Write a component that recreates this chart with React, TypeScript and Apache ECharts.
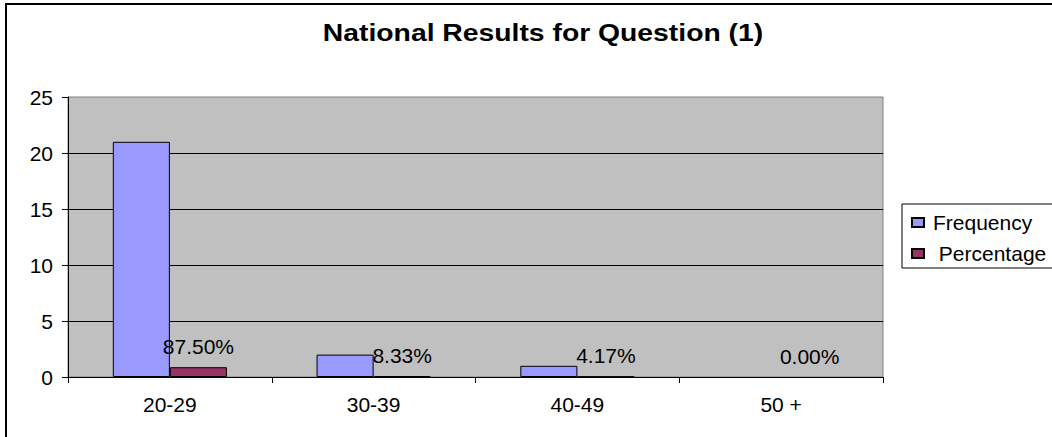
import React, { useEffect, useRef } from "react";
import * as echarts from "echarts";

const categories = ["20-29", "30-39", "40-49", "50 +"];
const frequency = [21, 2, 1, 0];
const percentage = [0.875, 0.0833, 0.0417, 0];
const yTicks = { min: 0, max: 25, interval: 5 };
const titleText = "National Results for Question (1)";

const FONT = 'Arial, "Liberation Sans", sans-serif';

const toItems = (vals: number[]) =>
  vals.map((v) => (v === 0 ? { value: v, itemStyle: { borderWidth: 0 } } : v));

export default function App() {
  const ref = useRef<HTMLDivElement>(null);
  useEffect(() => {
    if (!ref.current) return;
    const chart = echarts.init(ref.current, undefined, { renderer: "svg" });
    chart.setOption({
      animation: false,
      backgroundColor: "#ffffff",
      textStyle: { fontFamily: FONT },
      graphic: [
        {
          type: "rect",
          shape: { x: 6, y: 4, width: 1100, height: 500 },
          style: { fill: "none", stroke: "#000", lineWidth: 2 },
          z: 100,
        },
        {
          type: "text",
          x: 543,
          y: 33,
          scaleX: 1.18,
          style: {
            text: titleText,
            font: `bold 24px ${FONT}`,
            fill: "#000",
            textAlign: "center",
            textVerticalAlign: "middle",
          },
        },
      ],
      grid: {
        left: 68,
        top: 97,
        right: 169,
        bottom: 60,
        show: true,
        backgroundColor: "#C0C0C0",
        borderColor: "#808080",
        borderWidth: 1,
      },
      legend: {
        orient: "vertical",
        left: 902,
        top: 204,
        itemWidth: 12,
        itemHeight: 9,
        itemGap: 8,
        padding: [7, 30, 3, 9],
        borderColor: "#000",
        borderWidth: 1,
        backgroundColor: "#fff",
        icon: "rect",
        textStyle: { fontSize: 21, color: "#000", fontFamily: FONT, lineHeight: 23, padding: [0, 0, 0, 4] },
        data: ["Frequency", "Percentage"],
        formatter: (n: string) => (n === "Percentage" ? " " + n : n),
      },
      xAxis: {
        type: "category",
        data: categories,
        axisLine: { lineStyle: { color: "#000", width: 1 } },
        axisTick: { show: true, length: 6, alignWithLabel: false, lineStyle: { color: "#000" } },
        axisLabel: { fontSize: 21, color: "#000", margin: 17, fontFamily: FONT },
        splitLine: { show: false },
      },
      yAxis: {
        type: "value",
        min: yTicks.min,
        max: yTicks.max,
        interval: yTicks.interval,
        axisLine: { show: true, lineStyle: { color: "#000", width: 1 } },
        axisTick: { show: true, length: 6, lineStyle: { color: "#000" } },
        axisLabel: { fontSize: 21, color: "#000", margin: 15, fontFamily: FONT },
        splitLine: { show: true, showMaxLine: false, lineStyle: { color: "#000", width: 1 } },
      },
      series: [
        {
          name: "Frequency",
          type: "bar",
          data: toItems(frequency),
          barGap: "0%",
          barCategoryGap: "44%",
          itemStyle: { color: "#9999FF", borderColor: "#000", borderWidth: 1 },
        },
        {
          name: "Percentage",
          type: "bar",
          data: toItems(percentage),
          barGap: "0%",
          barCategoryGap: "44%",
          itemStyle: { color: "#993366", borderColor: "#000", borderWidth: 1 },
          label: {
            show: true,
            position: "top",
            distance: 10,
            fontSize: 21,
            color: "#000",
            fontFamily: FONT,
            formatter: (p: any) => (p.value * 100).toFixed(2) + "%",
          },
        },
      ],
    });
    return () => chart.dispose();
  }, []);
  return (
    <div
      ref={ref}
      style={{ position: "absolute", left: 0, top: 0, width: 1052, height: 437 }}
    />
  );
}
